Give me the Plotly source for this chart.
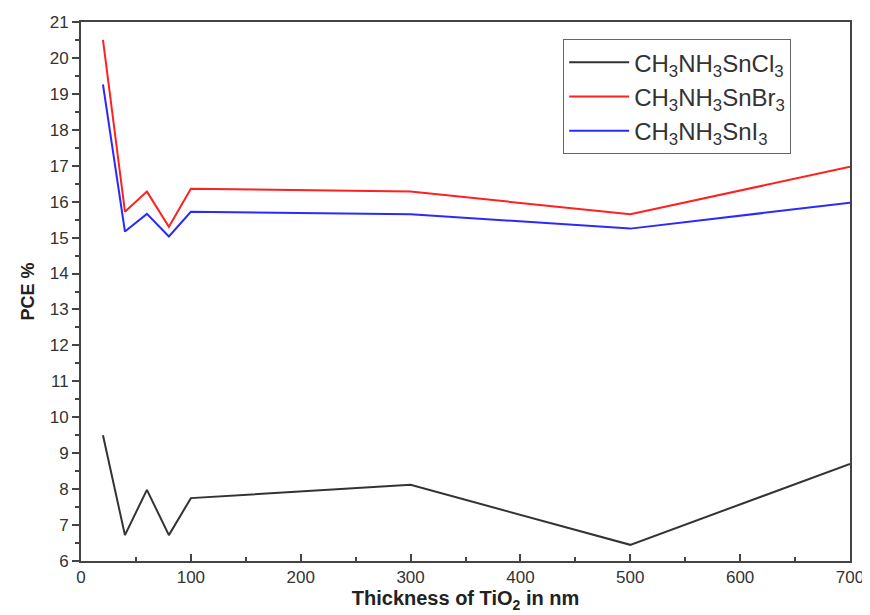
import plotly.graph_objects as go

thickness = [20, 40, 60, 80, 100, 300, 500, 700]
pce_cl = [9.5, 6.72, 7.98, 6.72, 7.75, 8.12, 6.45, 8.7]
pce_br = [20.5, 15.72, 16.28, 15.3, 16.36, 16.28, 15.65, 16.97]
pce_i = [19.26, 15.17, 15.66, 15.03, 15.72, 15.65, 15.25, 15.97]
names = ["CH<sub>3</sub>NH<sub>3</sub>SnCl<sub>3</sub>",
         "CH<sub>3</sub>NH<sub>3</sub>SnBr<sub>3</sub>",
         "CH<sub>3</sub>NH<sub>3</sub>SnI<sub>3</sub>"]
colors = ["#333333", "#ff2020", "#2a2aff"]

fig = go.Figure()
for i, (ys, nm, c) in enumerate(zip([pce_cl, pce_br, pce_i], names, colors)):
    fig.add_trace(go.Scatter(x=thickness, y=ys, mode="lines", name=nm,
                             legendgroup=f"g{i}",
                             line=dict(color=c, width=2)))

font = "Liberation Sans, Arial, sans-serif"
fig.update_layout(
    width=862, height=607,
    margin=dict(l=73, r=20, t=14, b=54),
    plot_bgcolor="white", paper_bgcolor="white",
    font=dict(family=font, color="#333333", size=15),
    showlegend=True,
    legend=dict(x=0.627, y=0.968, xanchor="left", yanchor="top",
                bordercolor="#666666", borderwidth=1, bgcolor="white",
                font=dict(size=24, color="#333333"), tracegroupgap=0,
                itemwidth=60),
    xaxis=dict(range=[0, 700], tickvals=[0, 100, 200, 300, 400, 500, 600, 700],
               automargin=False,
               ticks="inside", ticklen=7, tickwidth=1.5, tickcolor="#444444",
               minor=dict(dtick=50, ticks="inside", ticklen=4, tickcolor="#444444"),
               showline=True, linecolor="#444444", linewidth=2, mirror=True,
               showgrid=False, zeroline=False,
               tickfont=dict(size=17, color="#333333"),
               title=dict(text="<b>Thickness of TiO<sub>2</sub> in nm</b>",
                          font=dict(size=20, color="#222222"), standoff=2)),
    yaxis=dict(range=[6, 21], dtick=1, ticks="outside", ticklen=7, tickwidth=1.5,
               tickcolor="#444444", automargin=False,
               minor=dict(dtick=0.5, ticks="outside", ticklen=4, tickcolor="#444444"),
               showline=True, linecolor="#444444", linewidth=2, mirror=True,
               showgrid=False, zeroline=False,
               tickfont=dict(size=17, color="#333333"),
               title=dict(text="<b>PCE %</b>", font=dict(size=18, color="#222222"),
                          standoff=10)),
)
fig.write_html("out.html")
